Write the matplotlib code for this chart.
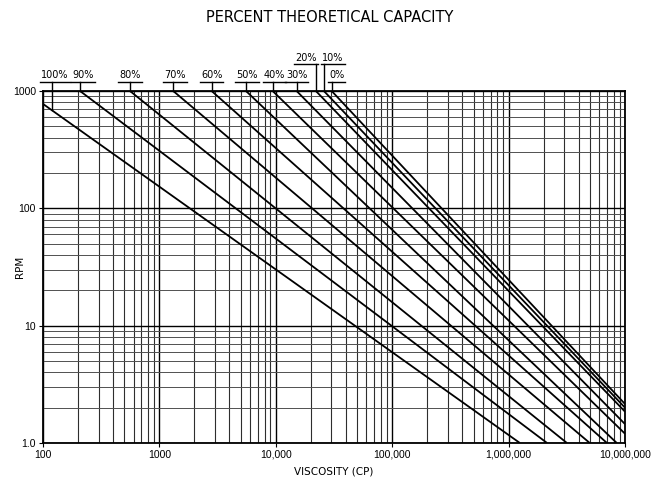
import numpy as np
import matplotlib
matplotlib.use("Agg")
import matplotlib.pyplot as plt
from matplotlib.ticker import FixedLocator, FixedFormatter, LogLocator, NullFormatter

# Capacity curves: straight runs on log-log axes from a start point to an end point
capacity = ["100%", "90%", "80%", "70%", "60%", "50%", "40%", "30%", "20%", "10%", "0%"]
start_visc = [100, 208, 559, 1315, 2813, 5546, 9400, 15100, 22100, 25900, 30200]
start_rpm = [776, 1000, 1000, 1000, 1000, 1000, 1000, 1000, 1000, 1000, 1000]
end_visc = [1.25e6, 2.14e6, 3.17e6, 4.98e6, 7.0e6, 8.5e6, 1e7, 1e7, 1e7, 1e7, 1e7]
end_rpm = [1, 1, 1, 1, 1, 1, 1.2, 1.45, 1.85, 2.0, 2.15]

# viscosity where each capacity label's leader meets its curve
leader_visc = [119, 208, 559, 1315, 2813, 5546, 9400, 15100, 22100, 25900, 30200]

x_ticks = [100, 1000, 1e4, 1e5, 1e6, 1e7]
x_tick_labels = ["100", "1000", "10,000", "100,000", "1,000,000", "10,000,000"]
y_ticks = [1, 10, 100, 1000]
y_tick_labels = ["1.0", "10", "100", "1000"]

# label layout: horizontal text offset from the leader (pixels) and row (0 low, 1 high)
label_dx = [3, 3, 0, 2, 0, 1, 2, 0, -10, 9, 5]
label_row = [0, 0, 0, 0, 0, 0, 0, 0, 1, 1, 0]

fig = plt.figure(figsize=(6.6, 4.79), dpi=100)
ax = fig.add_axes([43 / 660, 1 - 443 / 479, (625 - 43) / 660, (443 - 91) / 479])
ax.set_xscale("log")
ax.set_yscale("log")
ax.set_xlim(100, 1e7)
ax.set_ylim(1, 1000)

# log grid
ax.xaxis.set_major_locator(FixedLocator(x_ticks))
ax.xaxis.set_major_formatter(FixedFormatter(x_tick_labels))
ax.yaxis.set_major_locator(FixedLocator(y_ticks))
ax.yaxis.set_major_formatter(FixedFormatter(y_tick_labels))
ax.xaxis.set_minor_locator(LogLocator(base=10, subs=np.arange(2, 10)))
ax.yaxis.set_minor_locator(LogLocator(base=10, subs=np.arange(2, 10)))
ax.xaxis.set_minor_formatter(NullFormatter())
ax.yaxis.set_minor_formatter(NullFormatter())
ax.grid(which="major", color="black", linewidth=1.0)
ax.xaxis.grid(which="minor", color="#2e2e2e", linewidth=0.8)
ax.yaxis.grid(which="minor", color="#505050", linewidth=0.7)
ax.tick_params(which="minor", length=0)
ax.tick_params(which="major", direction="out", length=3, width=0.8,
               labelsize=7.5, pad=2)
for lab in ax.get_xticklabels() + ax.get_yticklabels():
    lab.set_family("Liberation Sans")
for sp in ax.spines.values():
    sp.set_linewidth(1.3)

# capacity curves
for sv, sr, ev, er in zip(start_visc, start_rpm, end_visc, end_rpm):
    ax.plot([sv, ev], [sr, er], color="black", linewidth=1.3, solid_capstyle="butt")


def curve_rpm(i, v):
    lx0, lx1 = np.log10(start_visc[i]), np.log10(end_visc[i])
    ly0, ly1 = np.log10(start_rpm[i]), np.log10(end_rpm[i])
    t = (np.log10(v) - lx0) / (lx1 - lx0)
    return 10 ** (ly0 + t * (ly1 - ly0))


# capacity labels with underline and leader
trans = ax.get_xaxis_transform()
row_y = [1.0256, 1.0767]
texts = []
for i, name in enumerate(capacity):
    lv = leader_visc[i]
    yu = row_y[label_row[i]]
    rpm_hit = curve_rpm(i, lv)
    y_hit = ax.transAxes.inverted().transform(ax.transData.transform((lv, rpm_hit)))[1]
    ax.plot([lv, lv], [yu, y_hit], transform=trans, color="black",
            linewidth=1.0, clip_on=False)
    t = ax.annotate(name, xy=(lv, yu), xycoords=trans, xytext=(label_dx[i], 1.5),
                    textcoords="offset pixels", ha="center", va="bottom",
                    fontsize=7, family="DejaVu Sans")
    texts.append((t, yu))

fig.canvas.draw()
inv = ax.transAxes.inverted()
for t, yu in texts:
    bb = t.get_window_extent()
    x0 = inv.transform((bb.x0 - 1, 0))[0]
    x1 = inv.transform((bb.x1 + 1, 0))[0]
    ax.plot([x0, x1], [yu, yu], transform=ax.transAxes, color="black",
            linewidth=1.0, clip_on=False)

ax.set_xlabel("VISCOSITY (CP)", fontsize=7.5, labelpad=5)
fig.text(20 / 660, 1 - 267 / 479, "RPM", rotation=90, ha="center", va="center",
         fontsize=7.5)
fig.text(0.5, 1 - 18 / 479, "PERCENT THEORETICAL CAPACITY", ha="center",
         va="center", fontsize=10.5)

fig.savefig("out.png", dpi=100)
